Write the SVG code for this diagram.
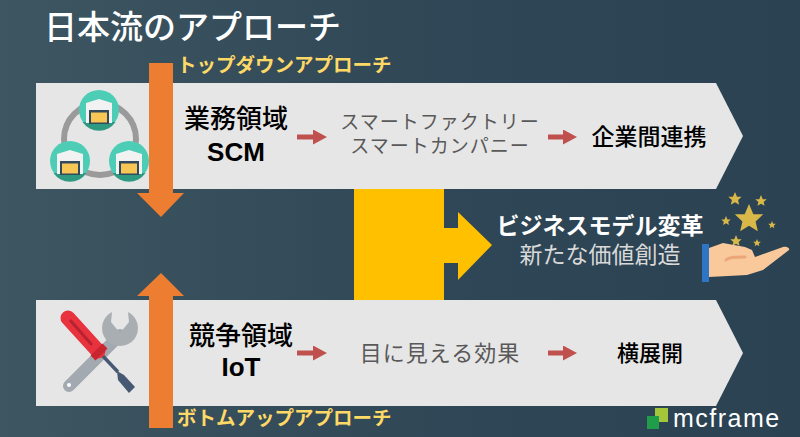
<svg xmlns="http://www.w3.org/2000/svg" width="800" height="437" viewBox="0 0 800 437">
<defs>
<linearGradient id="bg" x1="0" y1="0" x2="1" y2="0"><stop offset="0" stop-color="#3e5661"/><stop offset="0.6" stop-color="#2e4655"/><stop offset="1" stop-color="#2a4252"/></linearGradient>
<marker id="ah" markerWidth="14" markerHeight="15" refX="1" refY="7.500" orient="auto" markerUnits="userSpaceOnUse"><path d="M0 0L14 7.500L0 15Z" fill="#c0504d"/></marker>
<g id="wh"><circle r="20" fill="#4dcdb6"/><path d="M-16.500 12A20 20 0 0 0 16.500 12Z" fill="#2f9a82"/><path d="M-13 13V-7L0 -11L13 -7V13Z" fill="#f2f2f2"/><rect x="-10" y="0" width="20" height="14" fill="#33495c"/><rect x="-8" y="2.500" width="16" height="10" fill="#f7c654"/></g>
<path id="st" d="M0-10L2.900-3.100L9.500-3.100L4.400 1.600L5.900 8.100L0 4.500L-5.900 8.100L-4.400 1.600L-9.500-3.100L-2.900-3.100Z" fill="#d9b84a"/>
</defs>
<style>
.j{font-family:"Noto Sans CJK JP","Liberation Sans",sans-serif}
.b{font-weight:500;fill:#000;text-anchor:middle}
.s{font-family:"Liberation Sans","Noto Sans CJK JP",sans-serif}
.l{fill:#595959;text-anchor:middle;letter-spacing:1px}
.y{fill:#ffd966;font-weight:700;font-size:19.500px}
.ar{stroke:#c0504d;stroke-width:5;fill:none;marker-end:url(#ah)}
</style>
<rect width="800" height="437" fill="url(#bg)"/>
<text class="j" x="44" y="39" font-size="33" font-weight="500" fill="#fff">日本流のアプローチ</text>
<g id="band-top"><path d="M36 83H716L743 136L716 189H36Z" fill="#e6e6e6"/></g>
<g id="band-bottom"><path d="M36 300H716L743 353L716 406H36Z" fill="#e6e6e6"/></g>
<g id="icon-network">
<circle cx="100" cy="139" r="36" fill="none" stroke="#9a9a9a" stroke-width="6"/>
<use href="#wh" x="99" y="110"/><use href="#wh" x="70" y="161"/><use href="#wh" x="129" y="161"/>
</g>
<g id="icon-tools">
<path d="M69 386L120 335" stroke="#a3a9b0" stroke-width="12" stroke-linecap="round"/>
<path d="M112 312A18 18 0 1 0 128 312L129 322L120 333L111 322Z" fill="#a9aeb3"/>
<circle cx="69" cy="385" r="2" fill="#fff"/>
<path d="M100 353L118 372" stroke="#475872" stroke-width="3.500"/>
<path d="M117 371L124 375L135 387L129 393L118 380Z" fill="#475872"/>
<path d="M68 318L98 351" stroke="#e8333f" stroke-width="15" stroke-linecap="round"/>
<path d="M70 320L92 345" stroke="#b8232f" stroke-width="3"/>
<path d="M93 358L105 346" stroke="#c9252f" stroke-width="7"/>
</g>
<g id="arrow-down"><path d="M149 63H173V193H184L161 217L137 193H149Z" fill="#ed7d31"/></g>
<g id="arrow-up"><path d="M149 428H173V296H184L161 273L137 296H149Z" fill="#ed7d31"/></g>
<g id="arrow-center"><path d="M354 189H444V228H458V212L492 245L458 280V263H444V300H354Z" fill="#ffc000"/></g>
<text class="j y" x="177" y="72">トップダウンアプローチ</text>
<text class="j y" x="177" y="425">ボトムアップアプローチ</text>
<g id="node-scm"><text class="j b" x="236" y="128" font-size="26">業務領域</text><text class="s" x="236" y="161" font-size="26" font-weight="700" text-anchor="middle">SCM</text></g>
<g id="node-factory" class="j"><text class="l" x="440" y="129" font-size="19">スマートファクトリー</text><text class="l" x="440" y="153" font-size="19">スマートカンパニー</text></g>
<g id="node-inter" class="j"><text class="b" x="649" y="145" font-size="23">企業間連携</text></g>
<g id="node-iot"><text class="j b" x="241" y="345" font-size="26">競争領域</text><text class="s" x="241" y="376" font-size="26" font-weight="700" text-anchor="middle">IoT</text></g>
<g id="node-effect" class="j"><text class="l" x="440" y="361" font-size="22">目に見える効果</text></g>
<g id="node-yoko" class="j"><text class="b" x="650" y="361" font-size="22">横展開</text></g>
<g id="connectors">
<path class="ar" d="M297 137H314"/><path class="ar" d="M548 137H564"/>
<path class="ar" d="M297 353H314"/><path class="ar" d="M548 353H564"/>
</g>
<g id="node-biz" class="j" text-anchor="middle"><text x="600" y="234" font-size="23" font-weight="700" fill="#fff">ビジネスモデル変革</text><text x="600" y="263" font-size="23" fill="#d9d9d9">新たな価値創造</text></g>
<g id="icon-hand">
<use href="#st" x="749" y="219" transform="translate(749,219) scale(1.500) translate(-749,-219)"/>
<use href="#st" x="735" y="199" transform="translate(735,199) scale(.7) translate(-735,-199)"/>
<use href="#st" x="761" y="201" transform="translate(761,201) scale(.6) translate(-761,-201)"/>
<use href="#st" x="726" y="221" transform="translate(726,221) scale(.5) translate(-726,-221)"/>
<use href="#st" x="772" y="225" transform="translate(772,225) scale(.4) translate(-772,-225)"/>
<use href="#st" x="736" y="241" transform="translate(736,241) scale(.6) translate(-736,-241)"/>
<use href="#st" x="757" y="243" transform="translate(757,243) scale(.4) translate(-757,-243)"/>
<path d="M709 248L723 243L745 247L752 250L755 257L783 247C788 246 790 249 789 250L763 270L747 275L709 277Z" fill="#f9c99b"/>
<path d="M726 260C728 257 735 257 745 257" stroke="#eba67a" stroke-width="3" fill="none" stroke-linecap="round"/>
<rect x="702" y="244" width="7" height="38" fill="#2e75c6"/>
</g>
<g id="logo">
<rect x="655" y="408" width="13" height="14" fill="#a4c639"/><rect x="647" y="416" width="12" height="13" fill="#1f9d4a"/>
<text class="s" x="673" y="427" font-size="25" fill="#fff" letter-spacing="1.500">mcframe</text>
</g>
</svg>
